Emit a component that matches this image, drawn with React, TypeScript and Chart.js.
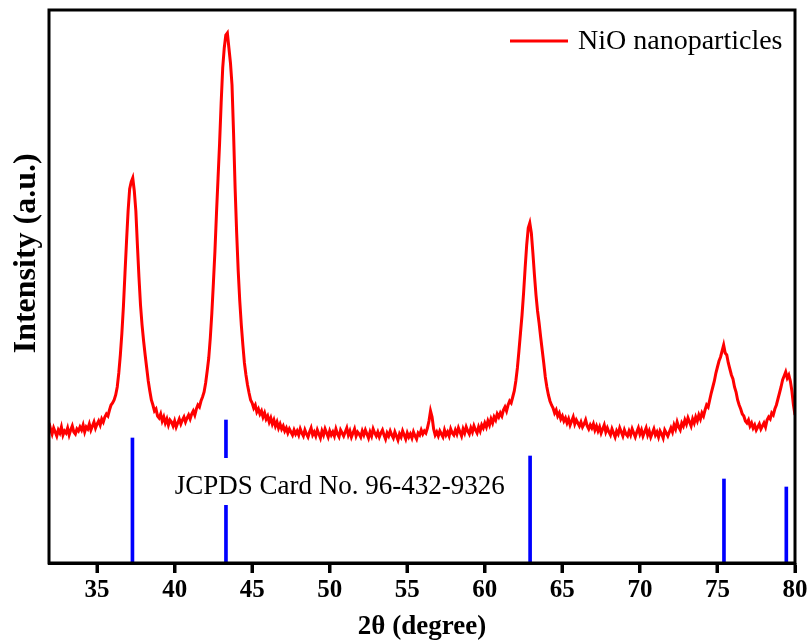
import React, { useEffect, useRef } from "react";
import { Chart, registerables } from "chart.js";

Chart.register(...registerables);

// 2θ sampling of the measured pattern (degrees)
const angleStart = 31.9;
const angleStep = 0.1;

// Measured intensity (a.u.), one row per degree (x.0 ... x.9)
const intensity = [
  140, // 31.9
  134, 129, 135, 131, 127, 133, 130, 136, 128, 132, // 32
  130, 135, 128, 133, 137, 131, 129, 134, 132, 136, // 33
  133, 138, 131, 136, 134, 139, 133, 137, 141, 135, // 34
  139, 142, 138, 144, 141, 146, 149, 147, 153, 158, // 35
  160, 163, 168, 176, 190, 208, 230, 257, 290, 322, // 36
  352, 374, 381, 385, 372, 352, 318, 286, 258, 238, // 37
  222, 208, 195, 182, 172, 163, 158, 152, 154, 147, // 38
  145, 149, 142, 146, 140, 144, 138, 143, 141, 137, // 39
  142, 136, 140, 144, 139, 143, 146, 141, 145, 148, // 40
  144, 149, 152, 148, 154, 158, 156, 162, 166, 171, // 41
  180, 192, 205, 225, 250, 280, 312, 350, 385, 420, // 42
  460, 495, 515, 528, 530, 515, 500, 478, 430, 375, // 43
  330, 292, 262, 238, 218, 200, 188, 178, 170, 163, // 44
  160, 155, 158, 151, 154, 149, 152, 146, 150, 144, // 45
  147, 141, 145, 139, 143, 137, 141, 135, 139, 134, // 46
  137, 132, 135, 130, 134, 131, 128, 133, 129, 132, // 47
  128, 134, 130, 127, 133, 129, 126, 131, 135, 128, // 48
  131, 127, 133, 129, 125, 132, 128, 134, 130, 126, // 49
  132, 128, 131, 127, 134, 129, 126, 133, 130, 127, // 50
  131, 135, 128, 132, 126, 130, 134, 127, 131, 129, // 51
  126, 132, 128, 133, 129, 125, 131, 127, 134, 130, // 52
  127, 131, 126, 130, 133, 128, 124, 130, 127, 132, // 53
  128, 125, 131, 127, 123, 129, 126, 132, 128, 124, // 54
  130, 126, 129, 125, 131, 127, 124, 130, 128, 133, // 55
  129, 132, 130, 135, 142, 152, 146, 134, 128, 131, // 56
  127, 132, 129, 126, 133, 128, 131, 127, 134, 130, // 57
  128, 133, 129, 135, 131, 127, 134, 130, 136, 132, // 58
  129, 135, 131, 137, 133, 130, 136, 132, 138, 135, // 59
  140, 136, 142, 138, 144, 140, 146, 143, 149, 146, // 60
  150, 147, 153, 156, 152, 158, 162, 160, 166, 172, // 61
  182, 195, 212, 230, 248, 270, 295, 318, 335, 340, // 62
  330, 310, 288, 268, 252, 240, 226, 213, 200, 186, // 63
  176, 168, 162, 158, 155, 150, 153, 147, 150, 144, // 64
  147, 142, 145, 140, 144, 138, 142, 146, 139, 143, // 65
  140, 137, 141, 136, 139, 143, 137, 134, 138, 135, // 66
  139, 133, 137, 132, 136, 130, 134, 138, 131, 135, // 67
  131, 128, 134, 130, 126, 132, 129, 135, 131, 127, // 68
  133, 129, 127, 132, 128, 134, 130, 126, 131, 135, // 69
  129, 133, 127, 131, 135, 128, 132, 126, 130, 134, // 70
  128, 131, 126, 132, 129, 125, 133, 130, 127, 131, // 71
  135, 131, 138, 134, 141, 136, 133, 140, 137, 143, // 72
  139, 145, 141, 137, 144, 140, 146, 142, 148, 144, // 73
  150, 147, 153, 158, 156, 163, 170, 176, 182, 190, // 74
  196, 202, 206, 212, 218, 210, 208, 200, 194, 188, // 75
  184, 176, 171, 163, 158, 154, 149, 147, 142, 140, // 76
  143, 137, 140, 135, 138, 133, 136, 139, 134, 137, // 77
  140, 136, 143, 146, 144, 150, 148, 154, 158, 164, // 78
  170, 176, 183, 187, 191, 185, 188, 182, 172, 158, // 79
  148, // 80.0
];

// Reference card (JCPDS 96-432-9326) stick positions and heights
const refAngles = [37.28, 43.31, 62.92, 75.42, 79.44];
const refHeights = [125, 143, 107, 84, 76];

const seriesLabel = "NiO nanoparticles";
const cardLabel = "JCPDS Card No. 96-432-9326";
const xTitle = "2θ (degree)";
const yTitle = "Intensity (a.u.)";
const xMin = 31.9;
const xMax = 80;
const xStep = 5;

const serif = '"Liberation Serif", "Times New Roman", serif';

export default function App() {
  const ref = useRef<HTMLCanvasElement | null>(null);

  useEffect(() => {
    document.body.style.margin = "0";
    document.body.style.background = "#ffffff";
    const canvas = ref.current;
    if (!canvas) return;

    const pattern = intensity.map((v, i) => ({
      x: Math.round((angleStart + i * angleStep) * 100) / 100,
      y: v,
    }));
    const sticks = refAngles.map((a, i) => ({ x: a, y: refHeights[i] }));

    const decor = {
      id: "decor",
      afterDatasetsDraw(chart: any) {
        const { ctx, chartArea: a, scales } = chart;
        ctx.save();
        // card label with white backing (cuts the stick behind it)
        ctx.font = `27px ${serif}`;
        const tx = scales.x.getPixelForValue(40.0);
        const ty = scales.y.getPixelForValue(76);
        const w = ctx.measureText(cardLabel).width;
        ctx.fillStyle = "#ffffff";
        ctx.fillRect(tx - 4, ty - 29, w + 8, 47);
        ctx.fillStyle = "#000000";
        ctx.textBaseline = "middle";
        ctx.textAlign = "left";
        ctx.fillText(cardLabel, tx, ty);

        // legend
        const ly = a.top + 31;
        ctx.strokeStyle = "#ff0000";
        ctx.lineWidth = 3;
        ctx.beginPath();
        ctx.moveTo(a.right - 285, ly);
        ctx.lineTo(a.right - 227, ly);
        ctx.stroke();
        ctx.font = `28px ${serif}`;
        ctx.fillStyle = "#000000";
        ctx.fillText(seriesLabel, a.right - 217, ly + 1);
        ctx.restore();
      },
      afterDraw(chart: any) {
        const { ctx, chartArea: a, scales } = chart;
        ctx.save();
        ctx.strokeStyle = "#000000";
        ctx.lineWidth = 3;
        ctx.strokeRect(a.left, a.top, a.right - a.left, a.bottom - a.top);
        // outward tick marks on the 2θ axis
        ctx.fillStyle = "#000000";
        scales.x.ticks.forEach((t: any) => {
          const px = scales.x.getPixelForValue(t.value);
          ctx.fillRect(Math.round(px) - 1.5, a.bottom, 3, 10);
        });
        // y title
        ctx.translate(27, a.top + (a.bottom - a.top) * 0.44);
        ctx.rotate(-Math.PI / 2);
        ctx.font = `bold 32px ${serif}`;
        ctx.textAlign = "center";
        ctx.textBaseline = "middle";
        ctx.fillText(yTitle, 0, 0);
        ctx.restore();
      },
    };

    const chart = new Chart(canvas, {
      type: "line",
      data: {
        datasets: [
          {
            type: "line",
            label: seriesLabel,
            data: pattern,
            borderColor: "#ff0000",
            borderWidth: 3,
            pointRadius: 0,
            fill: false,
            tension: 0,
          } as any,
          {
            type: "bar",
            label: cardLabel,
            data: sticks,
            backgroundColor: "#0000ff",
            borderWidth: 0,
            barThickness: 3,
          } as any,
        ],
      },
      options: {
        responsive: false,
        animation: false,
        layout: { padding: { left: 49, right: 16, top: 10, bottom: 0 } },
        plugins: {
          legend: { display: false },
          tooltip: { enabled: false },
        },
        scales: {
          x: {
            type: "linear",
            min: xMin,
            max: xMax,
            offset: false,
            ticks: {
              stepSize: xStep,
              includeBounds: false,
              color: "#000000",
              font: { family: serif, size: 25, weight: "bold" },
              padding: 3,
              maxRotation: 0,
              autoSkip: false,
            },
            grid: {
              offset: false,
              drawOnChartArea: false,
              drawTicks: true,
              tickLength: 10,
              tickWidth: 3,
              tickColor: "#000000",
            },
            border: { display: true, color: "#000000", width: 3 },
            title: {
              display: true,
              text: xTitle,
              color: "#000000",
              font: { family: serif, size: 27, weight: "bold" },
              padding: { top: 0, bottom: 1 },
            },
            afterFit: (s: any) => {
              s.height = 81;
            },
          } as any,
          y: { display: false, min: 0, max: 553 },
        },
      },
      plugins: [decor],
    });

    return () => chart.destroy();
  }, []);

  return (
    <div style={{ width: 811, height: 644 }}>
      <canvas ref={ref} width={811} height={644} style={{ display: "block" }} />
    </div>
  );
}
